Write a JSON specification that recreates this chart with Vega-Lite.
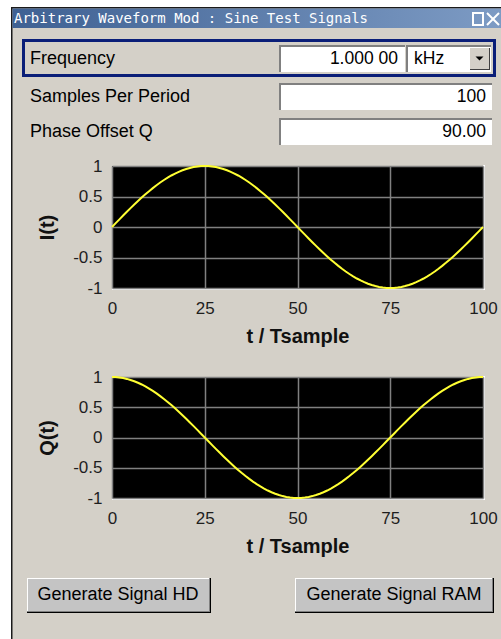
{
  "$schema": "https://vega.github.io/schema/vega-lite/v6.json",
  "background": "#d4d0c8",
  "padding": 0,
  "bounds": "flush",
  "spacing": 89,
  "config": {"view": {"stroke": null}, "font": "Liberation Sans"},
  "datasets": {
    "signals": [
      {"t":0,"I":0,"Q":1},{"t":1,"I":0.0628,"Q":0.998},{"t":2,"I":0.1253,"Q":0.9921},{"t":3,"I":0.1874,"Q":0.9823},{"t":4,"I":0.2487,"Q":0.9686},
      {"t":5,"I":0.309,"Q":0.9511},{"t":6,"I":0.3681,"Q":0.9298},{"t":7,"I":0.4258,"Q":0.9048},{"t":8,"I":0.4818,"Q":0.8763},{"t":9,"I":0.5358,"Q":0.8443},
      {"t":10,"I":0.5878,"Q":0.809},{"t":11,"I":0.6374,"Q":0.7705},{"t":12,"I":0.6845,"Q":0.729},{"t":13,"I":0.729,"Q":0.6845},{"t":14,"I":0.7705,"Q":0.6374},
      {"t":15,"I":0.809,"Q":0.5878},{"t":16,"I":0.8443,"Q":0.5358},{"t":17,"I":0.8763,"Q":0.4818},{"t":18,"I":0.9048,"Q":0.4258},{"t":19,"I":0.9298,"Q":0.3681},
      {"t":20,"I":0.9511,"Q":0.309},{"t":21,"I":0.9686,"Q":0.2487},{"t":22,"I":0.9823,"Q":0.1874},{"t":23,"I":0.9921,"Q":0.1253},{"t":24,"I":0.998,"Q":0.0628},
      {"t":25,"I":1,"Q":0},{"t":26,"I":0.998,"Q":-0.0628},{"t":27,"I":0.9921,"Q":-0.1253},{"t":28,"I":0.9823,"Q":-0.1874},{"t":29,"I":0.9686,"Q":-0.2487},
      {"t":30,"I":0.9511,"Q":-0.309},{"t":31,"I":0.9298,"Q":-0.3681},{"t":32,"I":0.9048,"Q":-0.4258},{"t":33,"I":0.8763,"Q":-0.4818},{"t":34,"I":0.8443,"Q":-0.5358},
      {"t":35,"I":0.809,"Q":-0.5878},{"t":36,"I":0.7705,"Q":-0.6374},{"t":37,"I":0.729,"Q":-0.6845},{"t":38,"I":0.6845,"Q":-0.729},{"t":39,"I":0.6374,"Q":-0.7705},
      {"t":40,"I":0.5878,"Q":-0.809},{"t":41,"I":0.5358,"Q":-0.8443},{"t":42,"I":0.4818,"Q":-0.8763},{"t":43,"I":0.4258,"Q":-0.9048},{"t":44,"I":0.3681,"Q":-0.9298},
      {"t":45,"I":0.309,"Q":-0.9511},{"t":46,"I":0.2487,"Q":-0.9686},{"t":47,"I":0.1874,"Q":-0.9823},{"t":48,"I":0.1253,"Q":-0.9921},{"t":49,"I":0.0628,"Q":-0.998},
      {"t":50,"I":0,"Q":-1},{"t":51,"I":-0.0628,"Q":-0.998},{"t":52,"I":-0.1253,"Q":-0.9921},{"t":53,"I":-0.1874,"Q":-0.9823},{"t":54,"I":-0.2487,"Q":-0.9686},
      {"t":55,"I":-0.309,"Q":-0.9511},{"t":56,"I":-0.3681,"Q":-0.9298},{"t":57,"I":-0.4258,"Q":-0.9048},{"t":58,"I":-0.4818,"Q":-0.8763},{"t":59,"I":-0.5358,"Q":-0.8443},
      {"t":60,"I":-0.5878,"Q":-0.809},{"t":61,"I":-0.6374,"Q":-0.7705},{"t":62,"I":-0.6845,"Q":-0.729},{"t":63,"I":-0.729,"Q":-0.6845},{"t":64,"I":-0.7705,"Q":-0.6374},
      {"t":65,"I":-0.809,"Q":-0.5878},{"t":66,"I":-0.8443,"Q":-0.5358},{"t":67,"I":-0.8763,"Q":-0.4818},{"t":68,"I":-0.9048,"Q":-0.4258},{"t":69,"I":-0.9298,"Q":-0.3681},
      {"t":70,"I":-0.9511,"Q":-0.309},{"t":71,"I":-0.9686,"Q":-0.2487},{"t":72,"I":-0.9823,"Q":-0.1874},{"t":73,"I":-0.9921,"Q":-0.1253},{"t":74,"I":-0.998,"Q":-0.0628},
      {"t":75,"I":-1,"Q":0},{"t":76,"I":-0.998,"Q":0.0628},{"t":77,"I":-0.9921,"Q":0.1253},{"t":78,"I":-0.9823,"Q":0.1874},{"t":79,"I":-0.9686,"Q":0.2487},
      {"t":80,"I":-0.9511,"Q":0.309},{"t":81,"I":-0.9298,"Q":0.3681},{"t":82,"I":-0.9048,"Q":0.4258},{"t":83,"I":-0.8763,"Q":0.4818},{"t":84,"I":-0.8443,"Q":0.5358},
      {"t":85,"I":-0.809,"Q":0.5878},{"t":86,"I":-0.7705,"Q":0.6374},{"t":87,"I":-0.729,"Q":0.6845},{"t":88,"I":-0.6845,"Q":0.729},{"t":89,"I":-0.6374,"Q":0.7705},
      {"t":90,"I":-0.5878,"Q":0.809},{"t":91,"I":-0.5358,"Q":0.8443},{"t":92,"I":-0.4818,"Q":0.8763},{"t":93,"I":-0.4258,"Q":0.9048},{"t":94,"I":-0.3681,"Q":0.9298},
      {"t":95,"I":-0.309,"Q":0.9511},{"t":96,"I":-0.2487,"Q":0.9686},{"t":97,"I":-0.1874,"Q":0.9823},{"t":98,"I":-0.1253,"Q":0.9921},{"t":99,"I":-0.0628,"Q":0.998},
      {"t":100,"I":0,"Q":1}
    ]
  },
  "vconcat": [
    {
      "width": 371,
      "height": 70,
      "layer": [
        {"data": {"values": [{}]}, "mark": {"type": "rect", "fill": "#ffffff"},
         "encoding": {"x": {"datum": 0, "type": "quantitative", "scale": {"domain": [0, 501], "range": [-112, 389], "nice": false, "zero": false}, "axis": null}, "x2": {"datum": 501},
                      "y": {"datum": 0, "type": "quantitative", "scale": {"domain": [0, 639], "range": [-7, 632], "nice": false, "zero": false}, "axis": null}, "y2": {"datum": 639}}},
        {"data": {"values": [{}]}, "mark": {"type": "rect", "fill": "#d4d0c8"},
         "encoding": {"x": {"datum": 11, "axis": null}, "x2": {"datum": 501}, "y": {"datum": 7, "axis": null}, "y2": {"datum": 639}}},
        {"data": {"values": [{}]}, "mark": {"type": "rule", "color": "#1a1a1a", "strokeWidth": 1.5},
         "encoding": {"x": {"datum": 11.75, "axis": null}, "y": {"datum": 7, "axis": null}, "y2": {"datum": 639}}},
        {"data": {"values": [{}]}, "mark": {"type": "rule", "color": "#1a1a1a", "strokeWidth": 1.5},
         "encoding": {"x": {"datum": 11, "axis": null}, "x2": {"datum": 501}, "y": {"datum": 7.75, "axis": null}}},
        {"data": {"values": [{}]}, "mark": {"type": "rect", "fill": {"x1": 0, "y1": 0, "x2": 1, "y2": 0, "gradient": "linear", "stops": [{"offset": 0, "color": "#3f6193"}, {"offset": 1, "color": "#7d9bc4"}]}},
         "encoding": {"x": {"datum": 12.5, "axis": null}, "x2": {"datum": 501}, "y": {"datum": 8.5, "axis": null}, "y2": {"datum": 28}}},
        {"data": {"values": [{"title": "Arbitrary Waveform Mod : Sine Test Signals"}]}, "mark": {"type": "text", "align": "left", "baseline": "middle", "font": "DejaVu Sans Mono", "fontSize": 14, "color": "#ffffff"},
         "encoding": {"x": {"datum": 14, "axis": null}, "y": {"datum": 18.5, "axis": null}, "text": {"field": "title"}}},
        {"data": {"values": [{}]}, "mark": {"type": "rect", "filled": false, "stroke": "#ffffff", "strokeWidth": 2},
         "encoding": {"x": {"datum": 473, "axis": null}, "x2": {"datum": 483}, "y": {"datum": 13, "axis": null}, "y2": {"datum": 25}}},
        {"data": {"values": [{}]}, "mark": {"type": "rule", "color": "#ffffff", "strokeWidth": 2},
         "encoding": {"x": {"datum": 487, "axis": null}, "x2": {"datum": 499}, "y": {"datum": 13, "axis": null}, "y2": {"datum": 25}}},
        {"data": {"values": [{}]}, "mark": {"type": "rule", "color": "#ffffff", "strokeWidth": 2},
         "encoding": {"x": {"datum": 487, "axis": null}, "x2": {"datum": 499}, "y": {"datum": 25, "axis": null}, "y2": {"datum": 13}}},
        {"data": {"values": [{}]}, "mark": {"type": "rect", "filled": false, "stroke": "#0a1e78", "strokeWidth": 3},
         "encoding": {"x": {"datum": 23.5, "axis": null}, "x2": {"datum": 494.5}, "y": {"datum": 40.5, "axis": null}, "y2": {"datum": 75.5}}},
        {"data": {"values": [{}]}, "mark": {"type": "rect", "fill": "#808080"},
         "encoding": {"x": {"datum": 279, "axis": null}, "x2": {"datum": 405}, "y": {"datum": 45, "axis": null}, "y2": {"datum": 72}}},
        {"data": {"values": [{}]}, "mark": {"type": "rect", "fill": "#ffffff"},
         "encoding": {"x": {"datum": 281, "axis": null}, "x2": {"datum": 405}, "y": {"datum": 47, "axis": null}, "y2": {"datum": 72}}},
        {"data": {"values": [{}]}, "mark": {"type": "rect", "fill": "#808080"},
         "encoding": {"x": {"datum": 406, "axis": null}, "x2": {"datum": 491}, "y": {"datum": 45, "axis": null}, "y2": {"datum": 72}}},
        {"data": {"values": [{}]}, "mark": {"type": "rect", "fill": "#ffffff"},
         "encoding": {"x": {"datum": 408, "axis": null}, "x2": {"datum": 491}, "y": {"datum": 47, "axis": null}, "y2": {"datum": 72}}},
        {"data": {"values": [{}]}, "mark": {"type": "rect", "fill": "#404040"},
         "encoding": {"x": {"datum": 470, "axis": null}, "x2": {"datum": 490}, "y": {"datum": 48, "axis": null}, "y2": {"datum": 70}}},
        {"data": {"values": [{}]}, "mark": {"type": "rect", "fill": "#d4d0c8"},
         "encoding": {"x": {"datum": 470, "axis": null}, "x2": {"datum": 489}, "y": {"datum": 48, "axis": null}, "y2": {"datum": 69}}},
        {"data": {"values": [{}]}, "mark": {"type": "point", "shape": "M-1,-0.5L1,-0.5L0,0.5Z", "filled": true, "color": "#000000", "size": 64, "opacity": 1},
         "encoding": {"x": {"datum": 479.5, "axis": null}, "y": {"datum": 58.5, "axis": null}}},
        {"data": {"values": [{}]}, "mark": {"type": "rect", "fill": "#808080"},
         "encoding": {"x": {"datum": 279, "axis": null}, "x2": {"datum": 492}, "y": {"datum": 83, "axis": null}, "y2": {"datum": 110}}},
        {"data": {"values": [{}]}, "mark": {"type": "rect", "fill": "#ffffff"},
         "encoding": {"x": {"datum": 281, "axis": null}, "x2": {"datum": 492}, "y": {"datum": 85, "axis": null}, "y2": {"datum": 110}}},
        {"data": {"values": [{}]}, "mark": {"type": "rect", "fill": "#808080"},
         "encoding": {"x": {"datum": 279, "axis": null}, "x2": {"datum": 492}, "y": {"datum": 118, "axis": null}, "y2": {"datum": 145}}},
        {"data": {"values": [{}]}, "mark": {"type": "rect", "fill": "#ffffff"},
         "encoding": {"x": {"datum": 281, "axis": null}, "x2": {"datum": 492}, "y": {"datum": 120, "axis": null}, "y2": {"datum": 145}}},
        {"data": {"values": [{"label": "Frequency"}]}, "mark": {"type": "text", "align": "left", "baseline": "middle", "fontSize": 18, "color": "#000000"},
         "encoding": {"x": {"datum": 30, "axis": null}, "y": {"datum": 58.5, "axis": null}, "text": {"field": "label"}}},
        {"data": {"values": [{"label": "Samples Per Period"}]}, "mark": {"type": "text", "align": "left", "baseline": "middle", "fontSize": 18, "color": "#000000"},
         "encoding": {"x": {"datum": 30, "axis": null}, "y": {"datum": 97, "axis": null}, "text": {"field": "label"}}},
        {"data": {"values": [{"label": "Phase Offset Q"}]}, "mark": {"type": "text", "align": "left", "baseline": "middle", "fontSize": 18, "color": "#000000"},
         "encoding": {"x": {"datum": 30, "axis": null}, "y": {"datum": 132, "axis": null}, "text": {"field": "label"}}},
        {"data": {"values": [{"value": "1.000 00"}]}, "mark": {"type": "text", "align": "right", "baseline": "middle", "fontSize": 17.5, "color": "#000000"},
         "encoding": {"x": {"datum": 398, "axis": null}, "y": {"datum": 58.5, "axis": null}, "text": {"field": "value"}}},
        {"data": {"values": [{"unit": "kHz"}]}, "mark": {"type": "text", "align": "left", "baseline": "middle", "fontSize": 17.5, "color": "#000000"},
         "encoding": {"x": {"datum": 414, "axis": null}, "y": {"datum": 58.5, "axis": null}, "text": {"field": "unit"}}},
        {"data": {"values": [{"value": "100"}]}, "mark": {"type": "text", "align": "right", "baseline": "middle", "fontSize": 17.5, "color": "#000000"},
         "encoding": {"x": {"datum": 486, "axis": null}, "y": {"datum": 97, "axis": null}, "text": {"field": "value"}}},
        {"data": {"values": [{"value": "90.00"}]}, "mark": {"type": "text", "align": "right", "baseline": "middle", "fontSize": 17.5, "color": "#000000"},
         "encoding": {"x": {"datum": 486, "axis": null}, "y": {"datum": 132, "axis": null}, "text": {"field": "value"}}},
        {"data": {"values": [{}]}, "mark": {"type": "rect", "fill": "#ffffff"},
         "encoding": {"x": {"datum": 112, "axis": null}, "x2": {"datum": 485}, "y": {"datum": 288, "axis": null}, "y2": {"datum": 290}}},
        {"data": {"values": [{}]}, "mark": {"type": "rect", "fill": "#ffffff"},
         "encoding": {"x": {"datum": 483, "axis": null}, "x2": {"datum": 485}, "y": {"datum": 165, "axis": null}, "y2": {"datum": 290}}},
        {"data": {"values": [{}]}, "mark": {"type": "rect", "fill": "#ffffff"},
         "encoding": {"x": {"datum": 112, "axis": null}, "x2": {"datum": 485}, "y": {"datum": 498, "axis": null}, "y2": {"datum": 500}}},
        {"data": {"values": [{}]}, "mark": {"type": "rect", "fill": "#ffffff"},
         "encoding": {"x": {"datum": 483, "axis": null}, "x2": {"datum": 485}, "y": {"datum": 376, "axis": null}, "y2": {"datum": 500}}},
        {"data": {"values": [{}]}, "mark": {"type": "rect", "fill": "#000000"},
         "encoding": {"x": {"datum": 27, "axis": null}, "x2": {"datum": 211}, "y": {"datum": 578, "axis": null}, "y2": {"datum": 613}}},
        {"data": {"values": [{}]}, "mark": {"type": "rect", "fill": "#808080"},
         "encoding": {"x": {"datum": 27, "axis": null}, "x2": {"datum": 210}, "y": {"datum": 578, "axis": null}, "y2": {"datum": 612}}},
        {"data": {"values": [{}]}, "mark": {"type": "rect", "fill": "#ffffff"},
         "encoding": {"x": {"datum": 27, "axis": null}, "x2": {"datum": 209}, "y": {"datum": 578, "axis": null}, "y2": {"datum": 611}}},
        {"data": {"values": [{}]}, "mark": {"type": "rect", "fill": "#c4c4c4"},
         "encoding": {"x": {"datum": 28, "axis": null}, "x2": {"datum": 209}, "y": {"datum": 579, "axis": null}, "y2": {"datum": 611}}},
        {"data": {"values": [{}]}, "mark": {"type": "rect", "fill": "#000000"},
         "encoding": {"x": {"datum": 295, "axis": null}, "x2": {"datum": 494}, "y": {"datum": 578, "axis": null}, "y2": {"datum": 613}}},
        {"data": {"values": [{}]}, "mark": {"type": "rect", "fill": "#808080"},
         "encoding": {"x": {"datum": 295, "axis": null}, "x2": {"datum": 493}, "y": {"datum": 578, "axis": null}, "y2": {"datum": 612}}},
        {"data": {"values": [{}]}, "mark": {"type": "rect", "fill": "#ffffff"},
         "encoding": {"x": {"datum": 295, "axis": null}, "x2": {"datum": 492}, "y": {"datum": 578, "axis": null}, "y2": {"datum": 611}}},
        {"data": {"values": [{}]}, "mark": {"type": "rect", "fill": "#c4c4c4"},
         "encoding": {"x": {"datum": 296, "axis": null}, "x2": {"datum": 492}, "y": {"datum": 579, "axis": null}, "y2": {"datum": 611}}},
        {"data": {"values": [{"button": "Generate Signal HD"}]}, "mark": {"type": "text", "align": "center", "baseline": "middle", "fontSize": 18, "color": "#000000"},
         "encoding": {"x": {"datum": 118, "axis": null}, "y": {"datum": 595, "axis": null}, "text": {"field": "button"}}},
        {"data": {"values": [{"button": "Generate Signal RAM"}]}, "mark": {"type": "text", "align": "center", "baseline": "middle", "fontSize": 18, "color": "#000000"},
         "encoding": {"x": {"datum": 394, "axis": null}, "y": {"datum": 595, "axis": null}, "text": {"field": "button"}}}
      ]
    },
    {
      "width": 371,
      "height": 122,
      "view": {"fill": "#000000", "stroke": null},
      "data": {"name": "signals"},
      "mark": {"type": "line", "color": "#ffff33", "strokeWidth": 2},
      "encoding": {
        "x": {"field": "t", "type": "quantitative", "scale": {"domain": [0, 100], "nice": false, "zero": false},
              "axis": {"values": [0, 25, 50, 75, 100], "format": "d", "domain": false, "ticks": false, "labelPadding": 12, "labelFontSize": 17, "labelFont": "Liberation Sans", "labelColor": "#1e1e1e", "labelFlush": false, "labelOverlap": false, "grid": true, "gridColor": "#808080", "gridWidth": 1.5, "gridOpacity": 1, "title": "t / Tsample", "titleFont": "Liberation Sans", "titleFontSize": 20, "titleFontWeight": "bold", "titleColor": "#111111", "titlePadding": 10}},
        "y": {"field": "I", "type": "quantitative", "scale": {"domain": [-1, 1], "nice": false, "zero": false},
              "axis": {"values": [-1, -0.5, 0, 0.5, 1], "labelExpr": "'' + datum.value", "domain": false, "ticks": false, "labelPadding": 10, "labelFontSize": 17, "labelFont": "Liberation Sans", "labelColor": "#1e1e1e", "labelFlush": false, "labelOverlap": false, "grid": true, "gridColor": "#808080", "gridWidth": 1.5, "gridOpacity": 1, "title": "I(t)", "titleFont": "Liberation Sans", "titleFontSize": 20, "titleFontWeight": "bold", "titleColor": "#111111", "titlePadding": 15}}
      }
    },
    {
      "width": 371,
      "height": 121,
      "view": {"fill": "#000000", "stroke": null},
      "data": {"name": "signals"},
      "mark": {"type": "line", "color": "#ffff33", "strokeWidth": 2},
      "encoding": {
        "x": {"field": "t", "type": "quantitative", "scale": {"domain": [0, 100], "nice": false, "zero": false},
              "axis": {"values": [0, 25, 50, 75, 100], "format": "d", "domain": false, "ticks": false, "labelPadding": 12, "labelFontSize": 17, "labelFont": "Liberation Sans", "labelColor": "#1e1e1e", "labelFlush": false, "labelOverlap": false, "grid": true, "gridColor": "#808080", "gridWidth": 1.5, "gridOpacity": 1, "title": "t / Tsample", "titleFont": "Liberation Sans", "titleFontSize": 20, "titleFontWeight": "bold", "titleColor": "#111111", "titlePadding": 10}},
        "y": {"field": "Q", "type": "quantitative", "scale": {"domain": [-1, 1], "nice": false, "zero": false},
              "axis": {"values": [-1, -0.5, 0, 0.5, 1], "labelExpr": "'' + datum.value", "domain": false, "ticks": false, "labelPadding": 10, "labelFontSize": 17, "labelFont": "Liberation Sans", "labelColor": "#1e1e1e", "labelFlush": false, "labelOverlap": false, "grid": true, "gridColor": "#808080", "gridWidth": 1.5, "gridOpacity": 1, "title": "Q(t)", "titleFont": "Liberation Sans", "titleFontSize": 20, "titleFontWeight": "bold", "titleColor": "#111111", "titlePadding": 15}}
      }
    }
  ]
}
